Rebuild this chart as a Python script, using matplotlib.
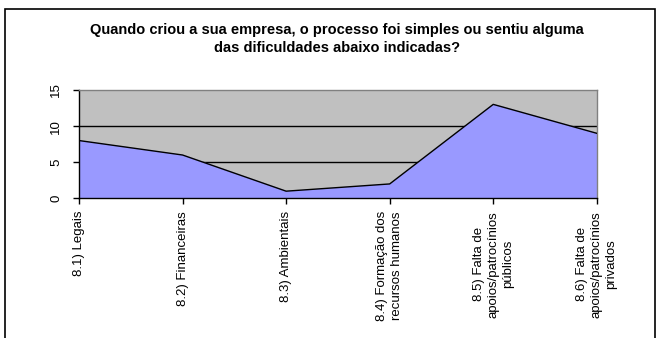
import matplotlib.pyplot as plt
from matplotlib.patches import Rectangle

plt.rcParams['font.family'] = ['Liberation Sans', 'DejaVu Sans']

categories = [
    '8.1) Legais',
    '8.2) Financeiras',
    '8.3) Ambientais',
    '8.4) Formação dos\nrecursos humanos',
    '8.5) Falta de\napoios/patrocínios\npúblicos',
    '8.6) Falta de\napoios/patrocínios\nprivados',
]
respostas = [8, 6, 1, 2, 13, 9]
yticks = [0, 5, 10, 15]

fig = plt.figure(figsize=(6.58, 3.38), dpi=100)
ax = fig.add_axes([0.120, 0.413, 0.787, 0.321])

# outer chart frame (open at the bottom)
fig.patches.append(Rectangle((5 / 658, -0.1), 650 / 658, 1.1 - 9 / 338,
                             transform=fig.transFigure, fill=False,
                             edgecolor='black', linewidth=1.2))

x = list(range(len(categories)))
ax.set_facecolor('#C0C0C0')
ax.fill_between(x, respostas, 0, color='#9999FF', zorder=2)
ax.plot(x, respostas, color='black', linewidth=1, zorder=3)

ax.set_xlim(0, len(categories) - 1)
ax.set_ylim(0, 15)
ax.set_yticks(yticks)
ax.set_yticklabels([str(v) for v in yticks], rotation=90, va='center', fontsize=9.5)
for v in yticks[1:-1]:
    ax.axhline(v, color='black', linewidth=1, zorder=1)

ax.set_xticks(x)
ax.set_xticklabels(categories, rotation=90, fontsize=9.5, ha='center', va='top',
                   multialignment='center', linespacing=1.3)
ax.tick_params(axis='both', direction='out', length=4, width=1, color='black')
ax.tick_params(axis='x', pad=5)
ax.tick_params(axis='y', pad=8)

for side in ('left', 'bottom'):
    ax.spines[side].set_color('black')
    ax.spines[side].set_linewidth(1)
for side in ('top', 'right'):
    ax.spines[side].set_color('#808080')
    ax.spines[side].set_linewidth(1)

fig.text(0.512, 0.885,
         'Quando criou a sua empresa, o processo foi simples ou sentiu alguma\n'
         'das dificuldades abaixo indicadas?',
         ha='center', va='center', fontsize=10.5, fontweight='bold', linespacing=1.3)

fig.savefig('out.png', dpi=100)
